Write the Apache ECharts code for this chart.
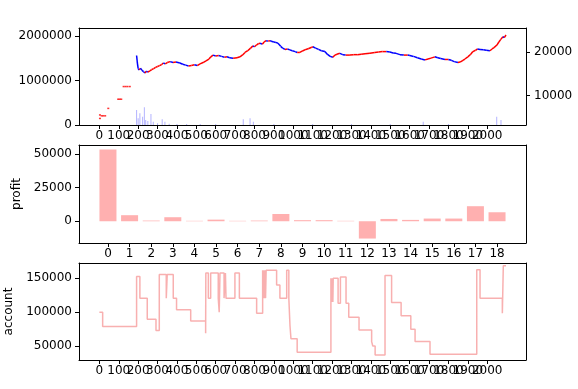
<!DOCTYPE html>
<html><head><meta charset="utf-8">
<script src="https://cdn.jsdelivr.net/npm/echarts@6/dist/echarts.min.js"></script>
<style>html,body{margin:0;padding:0;background:#fff}#c{width:578px;height:389px}</style>
</head><body><div id="c"></div><script>
// ---------- data ----------
const xTickEven = [0,200,400,600,800,1000,1200,1400,1600,1800,2000];
const xTickOdd = [100,300,500,700,900,1100,1300,1500,1700,1900];
const volTickValues = [0,1000000,2000000];
const priceTickValues = [10000,20000];
const profitTickValues = [0,25000,50000];
const accountTickValues = [50000,100000,150000];

const priceIdx = [192,196,200,206,212,220,228,235,242,250,260,270,280,290,300,310,320,330,340,350,365,380,395,415,430,445,460,475,490,505,519,535,550,565,575,586,600,615,630,645,658,672,690,710,725,740,751,765,780,792,800,810,820,829,840,850,860,870,880,890,900,910,921,935,945,957,970,982,995,1010,1020,1034,1050,1065,1080,1095,1101,1115,1130,1145,1163,1175,1190,1204,1215,1225,1240,1255,1270,1292,1310,1330,1350,1370,1395,1420,1440,1460,1480,1498,1515,1530,1550,1570,1590,1601,1620,1640,1660,1679,1695,1710,1730,1745,1760,1782,1800,1815,1830,1849,1860,1875,1885,1900,1915,1926,1940,1950,1963,1980,1995,2014,2025,2035,2050,2060,2070,2081,2088,2097];
const priceVal = [19200,17500,16200,15900,16300,15800,15500,15200,15600,15400,15700,16000,16200,16500,16700,16900,17100,17500,17300,17600,17800,17600,17700,17500,17200,17000,16800,16900,17100,16900,17300,17600,18000,18400,18900,19300,19100,19200,19000,18800,18900,18700,18600,18700,18900,19400,19900,20300,20900,21400,21200,21600,21900,22000,21800,22300,22600,22500,22600,22400,22300,22200,22000,21300,20900,20600,20700,20500,20300,20100,19900,19900,20300,20600,20800,21100,21200,20900,20600,20300,20100,19500,19000,18800,19300,19500,19700,19400,19300,19300,19400,19400,19500,19600,19700,19900,20000,20100,20100,20000,19800,19700,19400,19300,19300,19200,19000,18700,18400,18200,18400,18600,18900,18700,18500,18300,18300,18100,17800,17600,17700,18100,18400,18900,19500,20100,20400,20700,20600,20500,20400,20300,20700,21000,21600,22300,22900,23500,23300,23900];

const earlyIdx = [3,3,12,20,30,46,97,105,113,125,135,145,157];
const earlyVal = [4800,5600,5400,5400,5400,7100,9200,9200,9200,12100,12100,12100,12100];

const volIdx = [192,200,209,223,232,239,250,266,278,300,324,338,360,400,450,520,600,742,777,794,900,1100,1300,1500,1670,1800,2049,2071];
const volVal = [336000,150000,262000,186000,397000,112000,90000,247000,74000,40000,128000,74000,30000,25000,20000,20000,25000,128000,150000,74000,25000,20000,20000,20000,74000,20000,186000,112000];

const profitCats = [0,1,2,3,4,5,6,7,8,9,10,11,12,13,14,15,16,17,18];
const profitVals = [53500,4500,500,3000,300,1200,300,500,5400,800,800,300,-12900,1700,1000,2000,2000,11200,6700];

const accountIdx = [0,17,192,209,247,292,309,345,350,381,398,471,548,549,562,574,613,618,622,643,650,653,699,722,811,842,845,848,851,854,857,860,914,931,966,977,983,988,1020,1194,1196,1198,1200,1202,1204,1206,1231,1243,1272,1286,1339,1404,1410,1422,1473,1507,1556,1606,1628,1705,1946,1963,2078,2083,2097];
const accountVal = [100000,78700,152600,120700,89600,72800,155600,120700,155600,120700,103400,87000,69000,157700,120700,157700,120700,100000,157700,120700,157700,120700,157700,120700,98500,162000,120700,162000,120700,162000,120700,162000,140000,120700,162000,120700,80000,60800,40800,150000,115000,150000,115000,150000,115000,150000,113000,152000,113000,92600,73800,56500,50000,36800,154200,114200,94500,74900,56500,37900,162600,120700,98500,168500,168500];

// ---------- chart ----------
const font = {fontFamily:'DejaVu Sans', fontSize:12, color:'#000'};
const plain = v => String(v);
const chart = echarts.init(document.getElementById('c'), null, {renderer:'canvas'});

const priceSegs = [];
for (let i = 1; i < priceIdx.length; i++) priceSegs.push([priceIdx[i], priceVal[i], priceIdx[i-1], priceVal[i-1]]);

const lineBlack = {show:true, onZero:false, lineStyle:{color:'#000', width:1}};
function grid(top, h){ return {left:79, right:52, top:top, height:h, show:false, outerBoundsMode:'none', containLabel:false}; }
function xVal(gi, min, max, ticks, showLine){
  return {type:'value', gridIndex:gi, min:min, max:max, position:'bottom', splitLine:{show:false},
    axisLine:showLine ? lineBlack : {show:false, onZero:false},
    axisTick:{show:true, length:4, inside:false, lineStyle:{color:'#000'}, customValues:ticks},
    axisLabel:Object.assign({margin:5, customValues:ticks, hideOverlap:false, showMinLabel:true, showMaxLabel:true, formatter:plain}, font)};
}
function xFrame(gi, min, max){
  return {type:'value', gridIndex:gi, min:min, max:max, position:'top', splitLine:{show:false},
    axisLine:lineBlack, axisTick:{show:false}, axisLabel:{show:false}};
}
function yVal(gi, min, max, ticks, pos, extra){
  return Object.assign({type:'value', gridIndex:gi, min:min, max:max, position:pos||'left', splitLine:{show:false},
    axisLine:lineBlack,
    axisTick:{show:true, length:4, lineStyle:{color:'#000'}, customValues:ticks},
    axisLabel:Object.assign({margin:7, customValues:ticks, showMinLabel:true, showMaxLabel:true, formatter:plain}, font)}, extra||{});
}
function yFrame(gi, min, max){
  return {type:'value', gridIndex:gi, min:min, max:max, position:'right', splitLine:{show:false},
    axisLine:lineBlack, axisTick:{show:false}, axisLabel:{show:false}};
}

chart.setOption({
  animation:false,
  backgroundColor:'#fff',
  grid:[grid(28,97), grid(145,98), grid(263,97)],
  xAxis:[
    xVal(0,-105,2200,xTickEven,true),
    xVal(1,-1.34,19.34,profitCats,true),
    xVal(2,-105,2200,xTickEven,true),
    xFrame(0,-105,2200),
    xFrame(1,-1.34,19.34),
    xFrame(2,-105,2200),
    xVal(0,-105,2200,xTickOdd,false),
    xVal(2,-105,2200,xTickOdd,false)
  ],
  yAxis:[
    yVal(0,0,2175000,volTickValues),
    yVal(0,3300,25500,priceTickValues,'right',{axisLabel:Object.assign({margin:8, customValues:priceTickValues, showMinLabel:true, showMaxLabel:true, formatter:plain}, font)}),
    yVal(1,-16220,56820,profitTickValues,'left',{name:'profit', nameLocation:'middle', nameGap:53, nameRotate:90, nameTextStyle:font}),
    yVal(2,29300,172600,accountTickValues,'left',{name:'account', nameLocation:'middle', nameGap:63, nameRotate:90, nameTextStyle:font}),
    yFrame(1,-16220,56820),
    yFrame(2,29300,172600)
  ],
  series:[
    {type:'bar', xAxisIndex:0, yAxisIndex:0, barWidth:1, itemStyle:{color:'rgba(0,0,255,0.3)'},
      data: volIdx.map((x,i)=>[x, volVal[i]])},
    {type:'scatter', xAxisIndex:0, yAxisIndex:1, symbol:'rect', symbolSize:[2,1.5], itemStyle:{color:'#ff0000'},
      data: earlyIdx.map((x,i)=>[x, earlyVal[i]])},
    {type:'custom', xAxisIndex:0, yAxisIndex:1, data: priceSegs, encode:{x:[0,2], y:[1,3]},
      renderItem:function(params, api){
        const p0 = api.coord([api.value(2), api.value(3)]);
        const p1 = api.coord([api.value(0), api.value(1)]);
        const up = api.value(1) >= api.value(3);
        return {type:'line', shape:{x1:p0[0], y1:p0[1], x2:p1[0], y2:p1[1]},
          style:{stroke: up ? '#ff0000' : '#0000ff', lineWidth:1.5}};
      }},
    {type:'bar', xAxisIndex:1, yAxisIndex:2, barWidth:17, itemStyle:{color:'#ffb0b0'},
      data: profitCats.map((c,i)=>[c, profitVals[i]])},
    {type:'line', xAxisIndex:2, yAxisIndex:3, step:'end', symbol:'none', lineStyle:{color:'rgba(240,80,80,0.45)', width:1.5},
      data: accountIdx.map((x,i)=>[x, accountVal[i]])}
  ]
});
</script></body></html>
